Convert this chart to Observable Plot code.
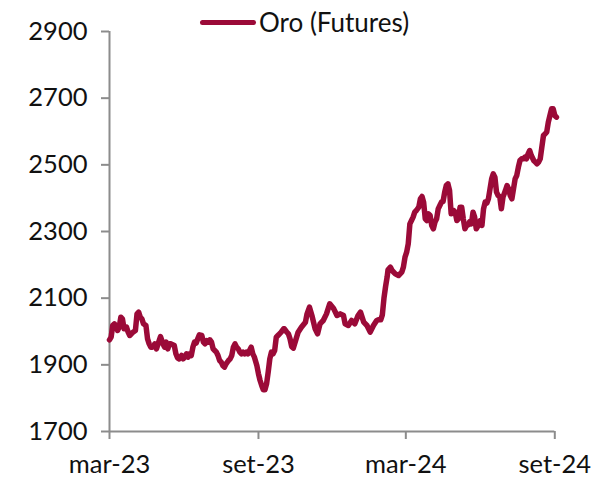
<!DOCTYPE html>
<html>
<head>
<meta charset="utf-8">
<script src="https://cdn.jsdelivr.net/npm/d3@7"></script>
<script src="https://cdn.jsdelivr.net/npm/@observablehq/plot@0.6"></script>
<style>
  html, body { margin: 0; padding: 0; background: #fff; }
  #wrap { position: relative; width: 611px; height: 479px; font-family: Lato, "Open Sans", sans-serif; }
  #legend { position: absolute; left: 200px; top: 6px; display: flex; align-items: center; font-size: 26px; color: #111; }
  #legend .sw { display: inline-block; width: 56px; height: 5px; border-radius: 3px; margin-right: 3px; }
</style>
</head>
<body>
<div id="wrap">
  <div id="chart"></div>
  <div id="legend"><span class="sw"></span><span class="lab"></span></div>
</div>
<script>
const seriesName = "Oro (Futures)";
const lineColor = "#9b0a38";
const axisColor = "#8c8c8c";

const dates = [
"2023-03-01","2023-03-03","2023-03-05","2023-03-07","2023-03-09","2023-03-11","2023-03-13","2023-03-15","2023-03-17","2023-03-19",
"2023-03-22","2023-03-24","2023-03-26","2023-03-28","2023-03-30","2023-04-02","2023-04-04","2023-04-06","2023-04-08","2023-04-10",
"2023-04-12","2023-04-15","2023-04-17","2023-04-19","2023-04-21","2023-04-23","2023-04-26","2023-04-28","2023-04-30","2023-05-03",
"2023-05-06","2023-05-08","2023-05-10","2023-05-12","2023-05-14","2023-05-16","2023-05-20","2023-05-22","2023-05-24","2023-05-26",
"2023-05-29","2023-05-31","2023-06-02","2023-06-04","2023-06-06","2023-06-08","2023-06-10","2023-06-12","2023-06-14","2023-06-16",
"2023-06-18","2023-06-20","2023-06-23","2023-06-25","2023-06-27","2023-06-29","2023-07-01","2023-07-03","2023-07-05","2023-07-07",
"2023-07-09","2023-07-11","2023-07-13","2023-07-15","2023-07-17","2023-07-19","2023-07-21","2023-07-23","2023-07-26","2023-07-28",
"2023-07-30","2023-08-01","2023-08-03","2023-08-05","2023-08-07","2023-08-09","2023-08-11","2023-08-13","2023-08-15","2023-08-17",
"2023-08-19","2023-08-21","2023-08-23","2023-08-25","2023-08-27","2023-08-30","2023-09-01","2023-09-03","2023-09-05","2023-09-07",
"2023-09-09","2023-09-11","2023-09-13","2023-09-15","2023-09-17","2023-09-19","2023-09-21","2023-09-23","2023-09-25","2023-09-27",
"2023-09-29","2023-10-02","2023-10-03","2023-10-06","2023-10-08","2023-10-10","2023-10-12","2023-10-14","2023-10-20","2023-10-24",
"2023-10-29","2023-10-31","2023-11-03","2023-11-06","2023-11-10","2023-11-13","2023-11-16","2023-11-20","2023-11-24","2023-11-28",
"2023-12-03","2023-12-07","2023-12-11","2023-12-15","2023-12-17","2023-12-21","2023-12-25","2023-12-29","2024-01-02","2024-01-05",
"2024-01-09","2024-01-13","2024-01-17","2024-01-21","2024-01-25","2024-01-27","2024-01-30","2024-02-01","2024-02-03","2024-02-05",
"2024-02-07","2024-02-08","2024-02-11","2024-02-13","2024-02-17","2024-02-21","2024-02-25","2024-02-27","2024-02-29","2024-03-02",
"2024-03-04","2024-03-06","2024-03-08","2024-03-10","2024-03-12","2024-03-14","2024-03-17","2024-03-19","2024-03-21","2024-03-23",
"2024-03-25","2024-03-27","2024-03-29","2024-03-31","2024-04-02","2024-04-04","2024-04-06","2024-04-08","2024-04-10","2024-04-12",
"2024-04-14","2024-04-16","2024-04-18","2024-04-20","2024-04-22","2024-04-24","2024-04-26","2024-04-29","2024-05-01","2024-05-03",
"2024-05-05","2024-05-07","2024-05-09","2024-05-11","2024-05-13","2024-05-15","2024-05-17","2024-05-19","2024-05-21","2024-05-23",
"2024-05-25","2024-05-27","2024-05-30","2024-06-01","2024-06-03","2024-06-05","2024-06-07","2024-06-09","2024-06-11","2024-06-13",
"2024-06-15","2024-06-17","2024-06-19","2024-06-21","2024-06-23","2024-06-25","2024-06-27","2024-06-29","2024-07-02","2024-07-04",
"2024-07-06","2024-07-08","2024-07-10","2024-07-12","2024-07-14","2024-07-16","2024-07-18","2024-07-20","2024-07-22","2024-07-24",
"2024-07-26","2024-07-28","2024-07-30","2024-08-01","2024-08-03","2024-08-06","2024-08-08","2024-08-10","2024-08-12","2024-08-14",
"2024-08-16","2024-08-18","2024-08-20","2024-08-22","2024-08-24","2024-08-26","2024-08-28","2024-08-30","2024-09-01","2024-09-03"
];

const prices = [
1975,1983,2018,2023,2016,2003,2013,2043,2038,2008,
2013,1998,1988,1993,1998,2003,2053,2058,2043,2038,
2023,2018,1978,1963,1953,1953,1963,1948,1963,1985,
1963,1953,1968,1948,1963,1963,1958,1933,1921,1918,
1928,1918,1923,1933,1923,1933,1928,1953,1968,1965,
1978,1990,1988,1968,1963,1973,1968,1975,1968,1948,
1943,1938,1928,1913,1908,1898,1893,1903,1913,1918,
1928,1953,1963,1953,1948,1938,1933,1938,1933,1938,
1933,1943,1953,1933,1923,1898,1873,1853,1838,1825,
1825,1843,1878,1918,1938,1933,1943,1983,1988,1993,
1998,2008,2008,1998,1993,1978,1955,1950,1998,2013,
2028,2053,2073,2048,2008,1993,2023,2033,2053,2083,
2068,2048,2053,2048,2023,2018,2033,2023,2048,2058,
2028,2018,1998,2018,2033,2035,2035,2050,2100,2135,
2165,2185,2193,2183,2173,2168,2178,2193,2223,2238,
2263,2323,2333,2343,2358,2363,2373,2398,2405,2388,
2338,2333,2353,2348,2318,2308,2328,2338,2368,2378,
2388,2390,2418,2438,2443,2423,2353,2363,2358,2333,
2338,2373,2373,2338,2308,2318,2320,2330,2323,2358,
2343,2308,2320,2333,2318,2368,2388,2385,2398,2428,
2458,2473,2463,2418,2408,2405,2368,2403,2423,2438,
2428,2408,2398,2428,2458,2468,2493,2513,2518,2518,
2523,2518,2533,2543,2528,2513,2508,2503,2508,2518,
2553,2588,2593,2598,2628,2648,2668,2668,2648,2643
];

const yTicks = [1700, 1900, 2100, 2300, 2500, 2700, 2900];
const xTickDates = ["2023-03-01", "2023-09-01", "2024-03-01", "2024-09-01"];
const xTickLabels = ["mar-23", "set-23", "mar-24", "set-24"];

const data = dates.map((d, i) => ({date: new Date(d + "T00:00:00Z"), price: prices[i]}));
const xTicks = xTickDates.map(d => new Date(d + "T00:00:00Z"));
const xDomain = [xTicks[0], xTicks[xTicks.length - 1]];

const chart = Plot.plot({
  width: 611,
  height: 479,
  marginLeft: 109,
  marginRight: 56.7,
  marginTop: 31,
  marginBottom: 48,
  style: {fontFamily: "Lato, 'Open Sans', sans-serif", fontSize: "25px", color: "#111", background: "#fff"},
  x: {type: "utc", domain: xDomain},
  y: {domain: [yTicks[0], yTicks[yTicks.length - 1]]},
  marks: [
    Plot.axisY({ticks: yTicks, tickSize: 8, tickPadding: 14, stroke: axisColor, strokeWidth: 2, fill: "#111", fontSize: 25.5, label: null, tickFormat: d => String(d)}),
    Plot.axisX({ticks: xTicks, tickSize: 8, tickPadding: 15, stroke: axisColor, strokeWidth: 2, fill: "#111", fontSize: 25.5, label: null,
      tickFormat: d => xTickLabels[xTicks.findIndex(t => +t === +d)]}),
    Plot.ruleX([xDomain[0]], {stroke: axisColor, strokeWidth: 2}),
    Plot.ruleY([yTicks[0]], {stroke: axisColor, strokeWidth: 2}),
    Plot.line(data, {x: "date", y: "price", stroke: lineColor, strokeWidth: 5.5, strokeLinejoin: "round", strokeLinecap: "round"})
  ]
});
document.getElementById("chart").appendChild(chart);
document.querySelector("#legend .sw").style.background = lineColor;
document.querySelector("#legend .lab").textContent = seriesName;
</script>
</body>
</html>
